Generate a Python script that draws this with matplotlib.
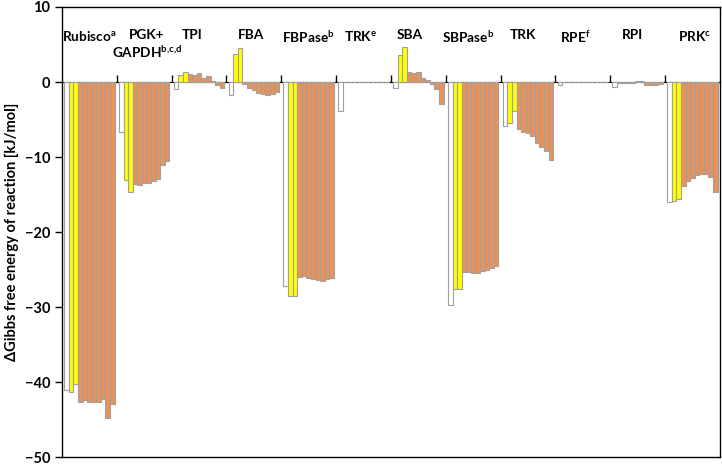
import numpy as np
import matplotlib
matplotlib.use("Agg")
import matplotlib.pyplot as plt

plt.rcParams['font.family'] = ['Lato', 'DejaVu Sans']
plt.rcParams['mathtext.fontset'] = 'custom'
plt.rcParams['mathtext.rm'] = 'Lato:bold'
plt.rcParams['mathtext.bf'] = 'Lato:bold'
plt.rcParams['mathtext.it'] = 'Lato:bold'

# ---- data (kJ/mol), per enzyme: 1 white, 2 yellow, 8 orange bars ----
labels = ["Rubisco$^{a}$", "PGK+\nGAPDH$^{b{,}c{,}d}$", "TPI", "FBA", "FBPase$^{b}$",
          "TRK$^{e}$", "SBA", "SBPase$^{b}$", "TRK", "RPE$^{f}$", "RPI", "PRK$^{c}$"]

rubisco = [-41.0, -41.3, -40.2, -42.7, -42.4, -42.6, -42.6, -42.6, -42.2, -44.8, -42.9]
pgk     = [-6.6, -13.1, -14.7, -13.6, -13.7, -13.4, -13.5, -13.2, -12.9, -11.0, -10.5]
tpi     = [-0.9, 0.9, 1.4, 1.1, 0.9, 1.2, 0.6, 0.8, 0.2, -0.4, -0.8]
fba     = [-1.7, 3.8, 4.5, -0.3, -0.8, -1.1, -1.4, -1.6, -1.7, -1.6, -1.3]
fbpase  = [-27.2, -28.5, -28.5, -26.0, -25.9, -26.1, -26.2, -26.4, -26.5, -26.2, -26.1]
trk_e   = [-3.8, 0.0, 0.0, 0.0, 0.0, 0.0, 0.0, 0.0, 0.0, 0.0, 0.0]
sba     = [-0.8, 3.6, 4.7, 1.4, 1.2, 1.3, 0.5, 0.3, -0.3, -0.9, -2.9]
sbpase  = [-29.7, -27.6, -27.6, -25.3, -25.3, -25.4, -25.5, -25.2, -25.0, -24.8, -24.5]
trk     = [-5.8, -5.5, -3.9, -6.3, -6.6, -6.8, -7.2, -8.1, -8.6, -9.2, -10.4]
rpe     = [-0.45, 0.0, 0.0, 0.0, 0.0, 0.0, 0.0, 0.0, 0.0, 0.0, 0.0]
rpi     = [-0.6, -0.1, -0.1, -0.1, -0.1, 0.15, 0.1, -0.35, -0.4, -0.35, -0.3]
prk     = [-16.0, -15.9, -15.6, -13.9, -13.2, -12.8, -12.4, -12.3, -12.2, -12.7, -14.6]

groups = [rubisco, pgk, tpi, fba, fbpase, trk_e, sba, sbpase, trk, rpe, rpi, prk]
vals = np.array(groups)  # shape (12 groups, 11 bars)

# small horizontal nudges of the labels (fraction of a group)
label_dx = [0.0, 0.05, -0.13, -0.05, 0.0, -0.05, -0.15, -0.09, -0.09, -0.13, -0.1, 0.04]

WHITE, YELLOW, ORANGE = "#FFFFFF", "#FFFF00", "#E9935B"
bar_colors = [WHITE, YELLOW, YELLOW] + [ORANGE] * 8

fig = plt.figure(figsize=(7.22, 4.66), dpi=100)
ax = fig.add_axes([0.0859, 0.019, 0.9111, 0.966])

n_groups, n_bars = vals.shape
x = np.arange(n_groups)
w = 0.92 / n_bars
for j in range(n_bars):
    off = (j - (n_bars - 1) / 2) * w
    ax.bar(x + off, vals[:, j], width=w, color=bar_colors[j],
           edgecolor="#A0A0A0", linewidth=0.8, zorder=2)

ax.set_xlim(-0.5, n_groups - 0.5)
ax.set_ylim(-50, 10)
ax.set_yticks(np.arange(-50, 11, 10))
ax.tick_params(axis='y', direction='out', length=5, width=1, labelsize=10.5)
for t in ax.get_yticklabels():
    t.set_fontweight('bold')
ax.set_xticks([])
for s in ax.spines.values():
    s.set_linewidth(1.0)
    s.set_color('black')

# category axis crossing at y = 0
zero_pos = (0 - (-50)) / 60
sec = ax.secondary_xaxis(zero_pos)
sec.set_xticks(np.arange(0.5, n_groups - 0.5, 1.0))
sec.set_xticklabels([])
sec.tick_params(direction='out', length=5, width=1)
sec.spines['bottom'].set_linewidth(1.0)

for i, lab in enumerate(labels):
    ax.text(i + label_dx[i], 7.0, lab, ha='center', va='top',
            fontsize=9.8, fontweight='bold', linespacing=1.2, zorder=3)

ax.set_ylabel("ΔGibbs free energy of reaction [kJ/mol]", fontsize=10.5,
              fontweight='bold', labelpad=4)

fig.savefig("out.png", dpi=100)
